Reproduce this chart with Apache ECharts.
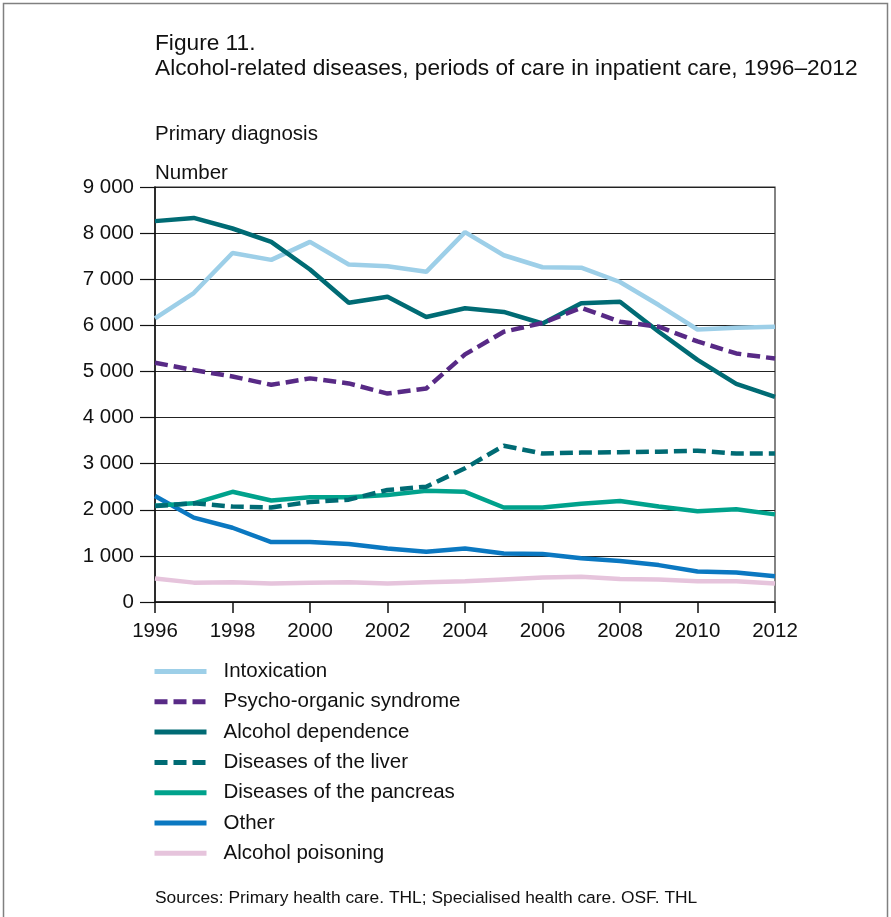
<!DOCTYPE html>
<html>
<head>
<meta charset="utf-8">
<script src="https://cdn.jsdelivr.net/npm/echarts@6/dist/echarts.min.js"></script>
<style>
html,body{margin:0;padding:0;background:#fff;}
#chart{width:891px;height:917px;}
</style>
</head>
<body>
<div id="chart"></div>
<script>
const years = ['1996','1997','1998','1999','2000','2001','2002','2003','2004','2005','2006','2007','2008','2009','2010','2011','2012'];
const intoxication = [6150,6700,7570,7420,7810,7320,7280,7160,8020,7520,7260,7250,6940,6440,5910,5950,5970];
const psychoOrganic = [5190,5030,4890,4710,4850,4740,4520,4630,5370,5860,6050,6380,6080,5970,5650,5390,5280];
const alcoholDependence = [8260,8330,8100,7810,7210,6490,6620,6180,6370,6290,6040,6480,6510,5860,5250,4730,4450];
const liver = [2080,2140,2070,2050,2170,2220,2430,2500,2900,3390,3220,3240,3250,3260,3280,3220,3220];
const pancreas = [2090,2140,2390,2200,2270,2270,2320,2410,2390,2050,2050,2130,2190,2070,1970,2010,1900];
const other = [2300,1830,1610,1300,1300,1260,1160,1090,1160,1050,1040,950,890,800,660,640,560];
const poisoning = [510,420,430,400,420,430,400,430,450,490,530,550,500,490,450,450,400];
const yTicks = [0,1000,2000,3000,4000,5000,6000,7000,8000,9000];

const FONT = '"Liberation Sans", Arial, Helvetica, sans-serif';
const chart = echarts.init(document.getElementById('chart'));

function mk(name, data, color, dashed, width) {
  return {
    name: name, type: 'line', data: data, symbol: 'none', smooth: false,
    lineStyle: {color: color, width: width || 4.5, type: dashed ? [13, 6] : 'solid', cap: 'butt'},
    itemStyle: {color: color},
    emphasis: {disabled: true}
  };
}

chart.setOption({
  animation: false,
  backgroundColor: '#fff',
  textStyle: {fontFamily: FONT},
  graphic: [
    {type: 'rect', shape: {x: 3.5, y: 3.5, width: 884, height: 960}, style: {fill: 'none', stroke: '#808080', lineWidth: 1.5}, silent: true},
    {type: 'text', left: 155, top: 32, style: {text: 'Figure 11.', font: '22.7px ' + FONT, fill: '#111'}},
    {type: 'text', left: 155, top: 57, style: {text: 'Alcohol-related diseases, periods of care in inpatient care, 1996\u20132012', font: '22.7px ' + FONT, fill: '#111'}},
    {type: 'text', left: 155, top: 124, style: {text: 'Primary diagnosis', font: '20.5px ' + FONT, fill: '#111'}},
    {type: 'text', left: 155, top: 163, style: {text: 'Number', font: '20.5px ' + FONT, fill: '#111'}},
    {type: 'text', left: 155, top: 890, style: {text: 'Sources: Primary health care. THL; Specialised health care. OSF. THL', font: '17.4px ' + FONT, fill: '#111'}}
  ],
  grid: {left: 155, right: 116, top: 187, bottom: 315, show: true, borderColor: '#333', borderWidth: 1.2, backgroundColor: 'transparent'},
  xAxis: {
    type: 'category', data: years, boundaryGap: false,
    axisLine: {lineStyle: {color: '#111', width: 1.5}},
    axisTick: {show: true, interval: 1, length: 11, lineStyle: {color: '#111', width: 1.5}},
    axisLabel: {interval: 1, margin: 19, color: '#111', fontSize: 20.5, fontFamily: FONT},
    splitLine: {show: false}
  },
  yAxis: {
    type: 'value', min: 0, max: 9000, interval: 1000,
    axisLine: {show: true, lineStyle: {color: '#111', width: 1.5}},
    axisTick: {show: true, length: 15, lineStyle: {color: '#111', width: 1.2}},
    axisLabel: {margin: 21, color: '#111', fontSize: 20.5, fontFamily: FONT,
      formatter: function (v) { return v >= 1000 ? Math.floor(v / 1000) + ' ' + String(v % 1000).padStart(3, '0') : String(v); }},
    splitLine: {show: true, lineStyle: {color: '#222', width: 1}}
  },
  legend: {
    orient: 'vertical', left: 152, top: 661, padding: 0, itemWidth: 52, itemHeight: 14, itemGap: 9.3,
    selectedMode: false,
    itemStyle: {opacity: 0, borderWidth: 0},
    lineStyle: {width: 5},
    textStyle: {fontSize: 20.5, fontFamily: FONT, color: '#111', lineHeight: 20, padding: [0, 0, 0, 12]},
    data: ['Intoxication','Psycho-organic syndrome','Alcohol dependence','Diseases of the liver','Diseases of the pancreas','Other','Alcohol poisoning']
  },
  series: [
    mk('Alcohol poisoning', poisoning, '#e6c4dc'),
    mk('Other', other, '#0b78c1'),
    mk('Diseases of the pancreas', pancreas, '#00a28c'),
    mk('Diseases of the liver', liver, '#006b74', true),
    mk('Intoxication', intoxication, '#9dcfe8'),
    mk('Alcohol dependence', alcoholDependence, '#006b74'),
    mk('Psycho-organic syndrome', psychoOrganic, '#582a86', true)
  ]
});
</script>
</body>
</html>
